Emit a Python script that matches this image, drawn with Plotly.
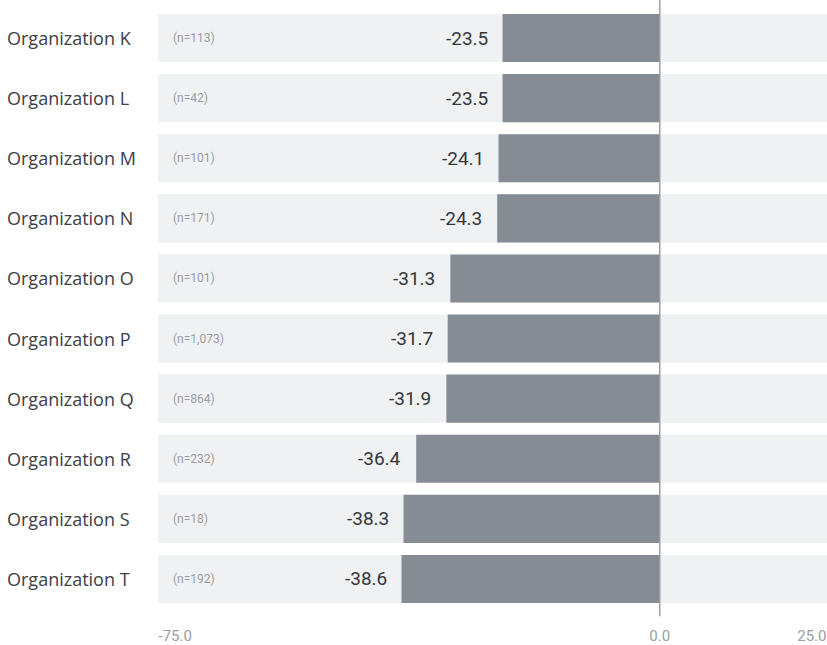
import plotly.graph_objects as go

# Organisation scores (net values) and respondent counts
organizations = [
    "Organization K", "Organization L", "Organization M", "Organization N",
    "Organization O", "Organization P", "Organization Q", "Organization R",
    "Organization S", "Organization T",
]
scores = [-23.5, -23.5, -24.1, -24.3, -31.3, -31.7, -31.9, -36.4, -38.3, -38.6]
sample_sizes = ["113", "42", "101", "171", "101", "1,073", "864", "232", "18", "192"]

# Axis extent and its labelled ticks
x_min, x_max = -75.0, 25.0
tick_labels = ["-75.0", "0.0", "25.0"]

BAR_COLOR = "#868c94"
BAND_COLOR = "#f0f1f3"
LABEL_COLOR = "#3b4046"
MUTED = "#9a9ea4"
MAIN_FONT = "Open Sans"
NUM_FONT = "Roboto"

fig = go.Figure()

# Full-width background band behind each row
fig.add_trace(go.Bar(
    y=organizations, x=[x_max - x_min] * len(organizations), base=[x_min] * len(organizations),
    orientation="h", marker=dict(color=BAND_COLOR, line=dict(width=0)),
    width=0.8, hoverinfo="skip", showlegend=False,
))

# Score bars
fig.add_trace(go.Bar(
    y=organizations, x=scores, orientation="h",
    marker=dict(color=BAR_COLOR, line=dict(width=0)),
    width=0.8, showlegend=False,
))

# Invisible anchors so the two extra tick axes get drawn
for ax, xv in (("x2", x_min), ("x3", x_max)):
    fig.add_trace(go.Scatter(
        x=[xv], y=[organizations[0]], xaxis=ax, yaxis="y", mode="markers",
        marker=dict(opacity=0, size=1), hoverinfo="skip", showlegend=False,
    ))

annotations = []
for org, val, n in zip(organizations, scores, sample_sizes):
    # value label just left of the bar end
    annotations.append(dict(
        x=val, y=org, xref="x", yref="y", text=f"{val:.1f}",
        xanchor="right", yanchor="middle", xshift=-13, showarrow=False,
        font=dict(family=NUM_FONT, size=19, color="#33373c"),
    ))
    # sample size inside the band
    annotations.append(dict(
        x=x_min, y=org, xref="x", yref="y", text=f"(n={n})",
        xanchor="left", yanchor="middle", xshift=13, showarrow=False,
        font=dict(family=NUM_FONT, size=12, color=MUTED),
    ))
    # organisation name at the far left
    annotations.append(dict(
        x=-158 / 669, y=org, xref="paper", yref="y", text=org,
        xanchor="left", yanchor="middle", xshift=5, showarrow=False,
        font=dict(family=MAIN_FONT, size=18, color=LABEL_COLOR),
    ))

tick_font = dict(family=NUM_FONT, size=15, color=MUTED)
common_axis = dict(
    range=[x_min, x_max], showgrid=False, zeroline=False, showline=False,
    ticks="outside", tickcolor="rgba(0,0,0,0)", tickfont=tick_font,
    fixedrange=True,
)

fig.update_layout(
    width=827, height=645,
    margin=dict(l=158, r=0, t=8, b=36),
    paper_bgcolor="white", plot_bgcolor="white",
    barmode="overlay", bargap=0.2,
    xaxis=dict(**common_axis, ticklen=13, tickvals=[0], ticktext=[tick_labels[1]]),
    xaxis2=dict(**common_axis, ticklen=13, ticklabelstandoff=13, overlaying="x", anchor="y",
                side="bottom", tickvals=[x_min], ticktext=[tick_labels[0]],
                ticklabelposition="outside right"),
    xaxis3=dict(**common_axis, ticklen=13, ticklabelstandoff=13, overlaying="x", anchor="y",
                side="bottom", tickvals=[x_max], ticktext=[tick_labels[2]],
                ticklabelposition="outside left"),
    yaxis=dict(categoryorder="array", categoryarray=organizations[::-1],
               range=[-0.5, len(organizations) - 0.5],
               showticklabels=False, showgrid=False, zeroline=False, fixedrange=True),
    annotations=annotations,
    shapes=[dict(type="line", xref="x", yref="paper", x0=0, x1=0, y0=-0.012, y1=1.014,
                 line=dict(color="#9a9ea3", width=1.5))],
    showlegend=False,
)

fig.write_html("out.html")
